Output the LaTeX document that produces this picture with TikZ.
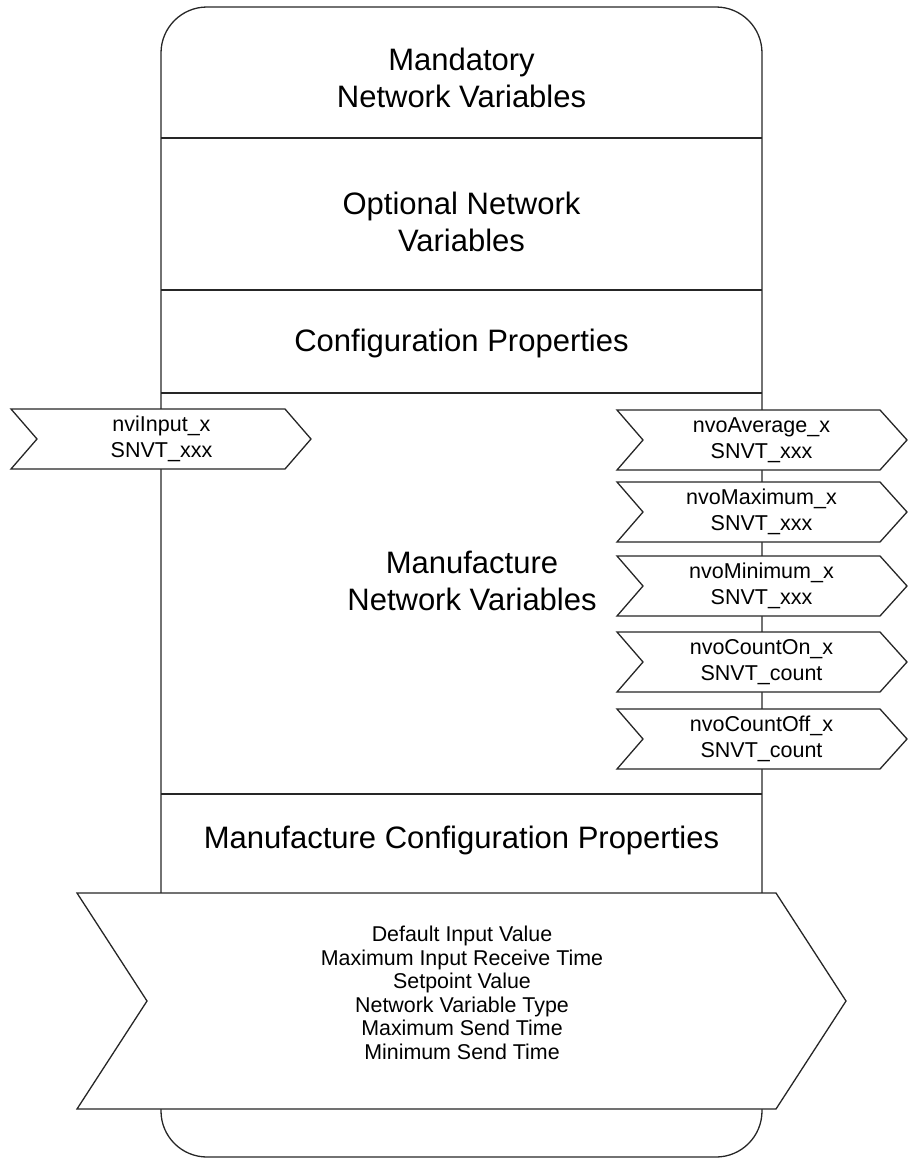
\documentclass[tikz,border=0pt]{standalone}
\usepackage{fontspec}
\setmainfont{Liberation Sans}
\begin{document}
\begin{tikzpicture}[x=1pt,y=-1pt,
  outline/.style={draw=black!85,line width=1.3pt,line join=miter},
  chevron/.style={outline,fill=white},
  bigtxt/.style={font=\fontsize{31}{37.5}\selectfont,align=center,inner sep=0pt},
  smalltxt/.style={font=\fontsize{21.5}{25.5}\selectfont,align=center,inner sep=0pt},
  listtxt/.style={font=\fontsize{21.4}{23.5}\selectfont,align=center,inner sep=0pt}]
\useasboundingbox (0,0) rectangle (911,1159);
% main rounded frame
\draw[outline,rounded corners=46pt] (161,7) rectangle (762,1157);
% section dividers
\draw[outline] (161,138) -- (762,138);
\draw[outline] (161,290) -- (762,290);
\draw[outline] (161,393) -- (762,393);
\draw[outline] (161,794) -- (762,794);
% section titles
\node[bigtxt] (mand) at (461.5,78) {Mandatory\\Network Variables};
\node[bigtxt] (opt) at (461.5,222) {Optional Network\\Variables};
\node[bigtxt] (conf) at (461.5,343) {Configuration Properties};
\node[bigtxt] (mnv) at (472,581) {Manufacture\\Network Variables};
\node[bigtxt] (mcp) at (461.5,840) {Manufacture Configuration Properties};
% input chevron
\draw[chevron] (11,409) -- (285,409) -- (311,439) -- (285,469) -- (11,469) -- (37,439) -- cycle;
\node[smalltxt] (nvi) at (161.5,439) {nviInput\_x\\SNVT\_xxx};
% output chevrons
\foreach \t/\name/\lineA/\lineB in {
  410/avg/nvoAverage\_x/SNVT\_xxx,
  482/max/nvoMaximum\_x/SNVT\_xxx,
  556/min/nvoMinimum\_x/SNVT\_xxx,
  632/con/nvoCountOn\_x/SNVT\_count,
  709/coff/nvoCountOff\_x/SNVT\_count}{
  \draw[chevron] (617,\t) -- (880,\t) -- (907,\t+30) -- (880,\t+60) -- (617,\t+60) -- (643,\t+30) -- cycle;
  \node[smalltxt] (\name) at (761.5,\t+30) {\lineA\\\lineB};
}
% big chevron
\draw[chevron] (77,893) -- (776,893) -- (846,1001) -- (776,1109) -- (77,1109) -- (147,1001) -- cycle;
\node[listtxt] (list) at (462,993) {Default Input Value\\Maximum Input Receive Time\\Setpoint Value\\Network Variable Type\\Maximum Send Time\\Minimum Send Time};
\end{tikzpicture}
\end{document}
